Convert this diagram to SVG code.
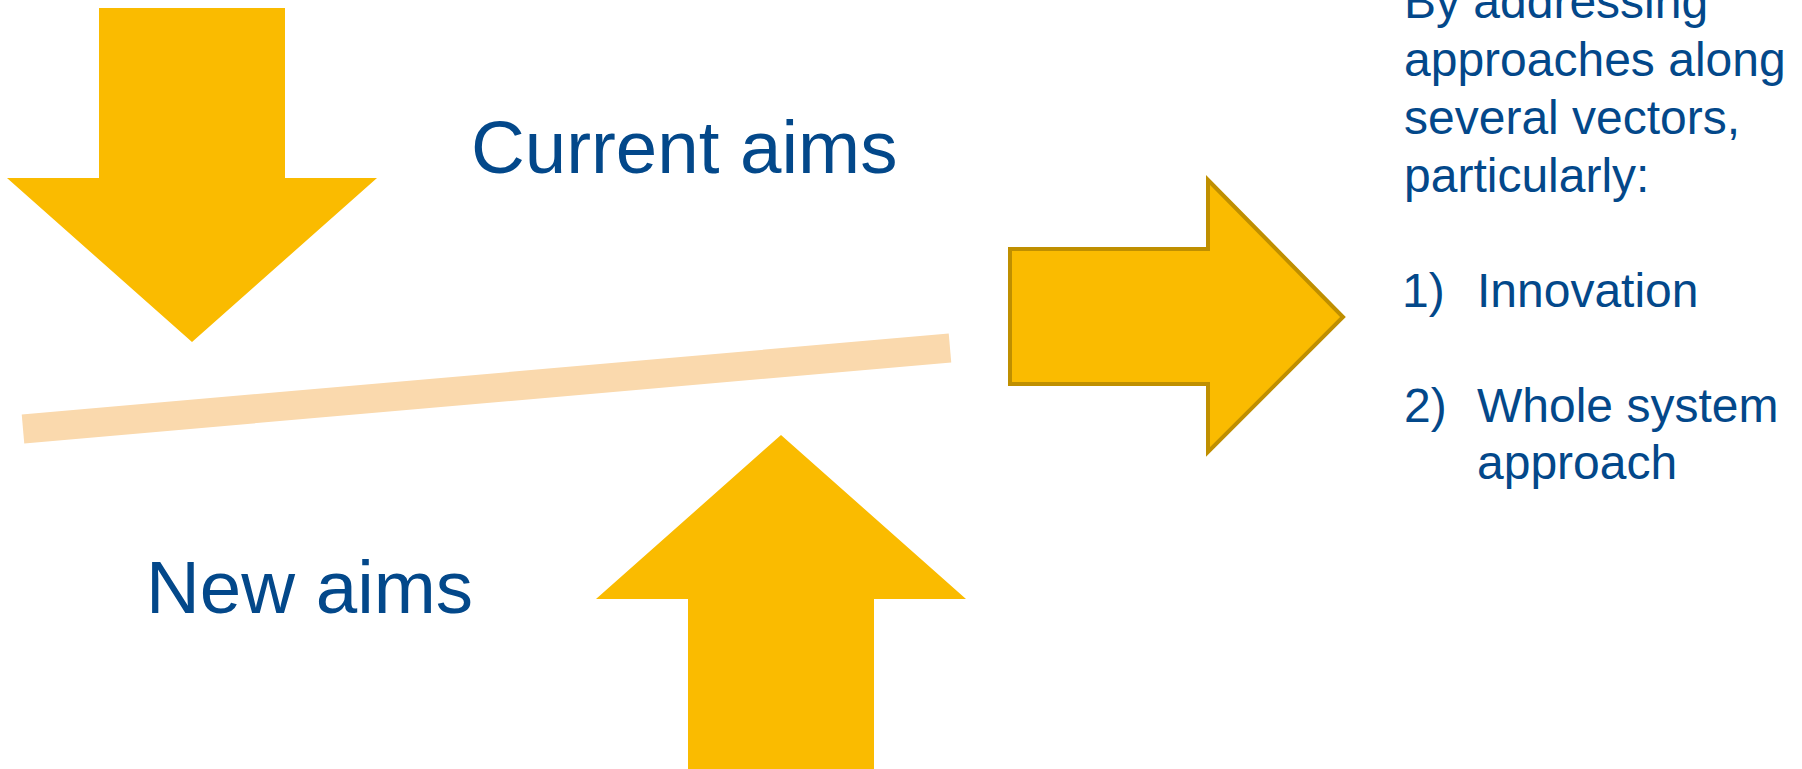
<svg xmlns="http://www.w3.org/2000/svg" width="1802" height="769" viewBox="0 0 1802 769">
<style>
.arrow{fill:#FABB00;}
.arrowO{fill:#FABB00;stroke:#BF8F00;stroke-width:4;stroke-linejoin:miter;}
.big{font-family:"Liberation Sans",Arial,sans-serif;font-size:74.5px;fill:#03488A;}
.body{font-family:"Liberation Sans",Arial,sans-serif;font-size:48px;fill:#03488A;}
</style>
<rect width="1802" height="769" fill="#FFFFFF"/>
<g id="connectors">
<line x1="23" y1="429" x2="950" y2="348" stroke="#FAD9AD" stroke-width="29"/>
</g>
<g id="arrow-down">
<polygon class="arrow" points="99,8 285,8 285,178 377,178 192,342 7,178 99,178"/>
</g>
<g id="arrow-up">
<polygon class="arrow" points="781,435 966,599 874,599 874,769 688,769 688,599 596,599"/>
</g>
<g id="arrow-right">
<polygon class="arrowO" points="1010,249 1208,249 1208,180 1343,317 1208,452 1208,384 1010,384"/>
</g>
<g id="label-current">
<text class="big" x="471" y="173">Current aims</text>
</g>
<g id="label-new">
<text class="big" x="146" y="613">New aims</text>
</g>
<g id="text-right">
<text class="body" x="1404" y="18">By addressing</text>
<text class="body" x="1404" y="76">approaches along</text>
<text class="body" x="1404" y="134">several vectors,</text>
<text class="body" x="1404" y="192">particularly:</text>
<text class="body" x="1402" y="307">1)</text>
<text class="body" x="1477" y="307">Innovation</text>
<text class="body" x="1404" y="422">2)</text>
<text class="body" x="1477" y="422">Whole system</text>
<text class="body" x="1477" y="479">approach</text>
</g>
</svg>
